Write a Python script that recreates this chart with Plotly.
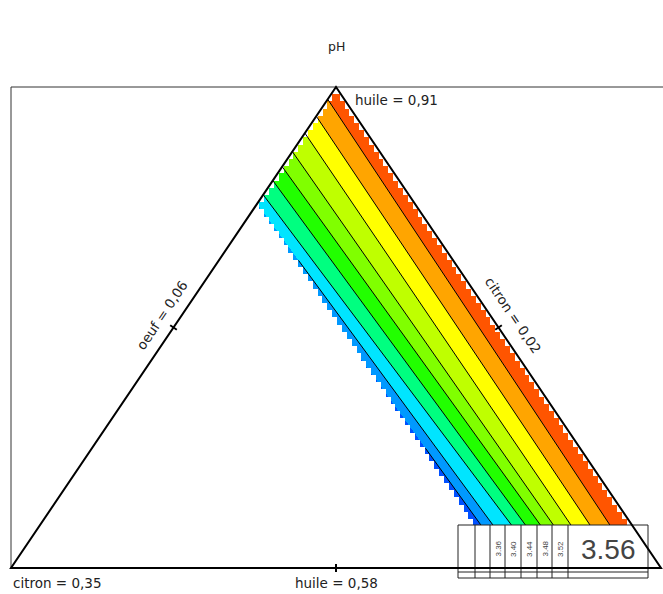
import numpy as np
import plotly.graph_objects as go

# ---------------- data ----------------
lower_bounds = {"citron": 0.02, "huile": 0.58, "oeuf": 0.06}
comp_range = 0.33
title_text = "pH"
vertex_labels = ["citron = 0,35", "oeuf = 0,39", "huile = 0,91"]
edge_labels = ["huile = 0,58", "oeuf = 0,06", "citron = 0,02"]

levels = [3.24, 3.28, 3.32, 3.36, 3.40, 3.44, 3.48, 3.52, 3.56]
huile_read = [0.83, 0.61]
citron_at_h1 = [0.1043, 0.1002, 0.0936, 0.0835, 0.0738, 0.0637, 0.0515, 0.0403, 0.0291]
citron_at_h2 = [0.0967, 0.0906, 0.0812, 0.0741, 0.0665, 0.0599, 0.0510, 0.0413, 0.0312]
citron_max_region = 0.0985
huile_min_region = 0.60
band_colors = ["#0050FF", "#0099FF", "#00E5FF", "#00FF80", "#22FF00",
               "#80FF00", "#BFFF00", "#FFFF00", "#FFA500", "#FF5500"]
legend_values = ["", "", "3.36", "3.40", "3.44", "3.48", "3.52", "3.56"]

# ---------------- frame geometry (pixels -> data units) ----------------
W, H = 663, 594
X0, XB, Y0, HT = 11.0, 650.0, 568.0, 481.0
APEX_Y = Y0 - HT
ROW = 7.2
EDGE_GAP = 1.2


def pu(px):
    return (np.asarray(px, dtype=float) - X0) / XB


def pv(py):
    return (Y0 - np.asarray(py, dtype=float)) / HT


def to_a(c):
    return (np.asarray(c, dtype=float) - lower_bounds["citron"]) / comp_range


def to_v(h):
    return (np.asarray(h, dtype=float) - lower_bounds["huile"]) / comp_range


a_max = float(to_a(citron_max_region))
v_min = float(to_v(huile_min_region))
v1, v2 = float(to_v(huile_read[0])), float(to_v(huile_read[1]))
a1 = to_a(citron_at_h1)
a2 = to_a(citron_at_h2)
q = (a1 - a2) / (v1 - v2)
p = a1 - q * v1

# ---------------- filled bands (rasterised) ----------------
px = np.arange(252, 663) + 0.5
py = np.arange(int(APEX_Y), int(Y0)) + 0.5
U = pu(px)[None, :]
V = pv(py)[:, None]
rows = np.floor((py - APEX_Y) / ROW)
V0 = pv(APEX_Y + rows * ROW)[:, None]
gap = EDGE_GAP / XB
inside = ((U <= 1 - 0.5 * V0 - gap) & (U >= 0.5 * V0 + gap)
          & (1 - U - 0.5 * V0 <= a_max) & (V >= v_min))
A = 1 - U - 0.5 * V
count = np.zeros(A.shape, dtype=int)
for pk, qk in zip(p, q):
    count += (pk + qk * V < A).astype(int)
band = (len(levels) - count).astype(float)
band[~inside] = np.nan
z = [[None if np.isnan(val) else int(val) for val in row] for row in band]

nb = len(band_colors)
cscale = []
for i, c in enumerate(band_colors):
    cscale.append([i / nb, c])
    cscale.append([(i + 1) / nb, c])

fig = go.Figure()
fig.add_trace(go.Heatmap(x=pu(px), y=pv(py), z=z, colorscale=cscale,
                         zmin=-0.5, zmax=nb - 0.5, showscale=False,
                         zsmooth=False, hoverinfo="skip"))

# ---------------- contour lines ----------------
for lev, pk, qk in zip(levels, p, q):
    v_hi = (1 - pk) / (1 + qk)
    v_lo = v_min
    if qk > 0:
        v_hi = min(v_hi, (a_max - pk) / qk)
    elif qk < 0:
        v_lo = max(v_min, (a_max - pk) / qk)
    vs = np.array([v_lo, v_hi])
    us = 1 - (pk + qk * vs) - 0.5 * vs
    fig.add_trace(go.Scatter(x=us, y=vs, mode="lines", name=str(lev),
                             line=dict(color="black", width=1), hoverinfo="skip"))

# ---------------- shapes ----------------
shapes = []
# outer box
shapes.append(dict(type="line", x0=float(pu(X0)), x1=float(pu(W)), y0=float(pv(APEX_Y)), y1=float(pv(APEX_Y)),
                   line=dict(color="#333333", width=1), layer="above"))
shapes.append(dict(type="line", x0=float(pu(X0)), x1=float(pu(X0)), y0=float(pv(APEX_Y)), y1=float(pv(Y0)),
                   line=dict(color="#333333", width=1), layer="above"))
# legend table
LX0, LX1, LY0, LY1 = 458, 648, 525, 578
cell_edges = [458, 475, 490, 505, 521, 537, 552, 568, 648]
shapes.append(dict(type="rect", x0=float(pu(LX0)), x1=float(pu(LX1)), y0=float(pv(LY1)), y1=float(pv(LY0)),
                   fillcolor="white", line=dict(color="#222222", width=1), layer="above"))
for e in cell_edges[1:-1]:
    shapes.append(dict(type="line", x0=float(pu(e)), x1=float(pu(e)), y0=float(pv(LY1)), y1=float(pv(LY0)),
                       line=dict(color="#222222", width=1), layer="above"))
shapes.append(dict(type="line", x0=float(pu(LX0)), x1=float(pu(LX1)), y0=float(pv(572)), y1=float(pv(572)),
                   line=dict(color="#222222", width=1), layer="above"))
# triangle
shapes.append(dict(type="path", path="M 0,0 L 1,0 L 0.5,1 Z",
                   line=dict(color="black", width=2), layer="above"))
# ticks at edge midpoints (pixel geometry)
mids = [((X0 + X0 + XB) / 2, Y0, (0.0, 1.0)),
        ((X0 + X0 + XB / 2) / 2, (Y0 + APEX_Y) / 2, (0.8287, 0.5597)),
        ((X0 + XB + X0 + XB / 2) / 2, (Y0 + APEX_Y) / 2, (0.8287, -0.5597))]
for mx, my, (dx, dy) in mids:
    shapes.append(dict(type="line", x0=float(pu(mx - 4 * dx)), x1=float(pu(mx + 4 * dx)),
                       y0=float(pv(my - 4 * dy)), y1=float(pv(my + 4 * dy)),
                       line=dict(color="black", width=2), layer="above"))

# ---------------- annotations ----------------
lab_font = dict(family="DejaVu Sans", size=13.5, color="#222222")
ann = []
ann.append(dict(x=float(pu(11)), y=float(pv(583)), text=vertex_labels[0], xanchor="left", yanchor="middle",
                showarrow=False, font=lab_font))
ann.append(dict(x=float(pu(W + 1)), y=float(pv(583)), text=vertex_labels[1], xanchor="right", yanchor="middle",
                showarrow=False, font=lab_font))
ann.append(dict(x=float(pu(353)), y=float(pv(100)), text=vertex_labels[2], xanchor="left", yanchor="middle",
                showarrow=False, font=lab_font))
ann.append(dict(x=float(pu(336)), y=float(pv(583)), text=edge_labels[0], xanchor="center", yanchor="middle",
                showarrow=False, font=lab_font))
ann.append(dict(x=float(pu(162)), y=float(pv(315)), text=edge_labels[1], xanchor="center", yanchor="middle",
                textangle=-56, showarrow=False, font=lab_font))
ann.append(dict(x=float(pu(513)), y=float(pv(315)), text=edge_labels[2], xanchor="center", yanchor="middle",
                textangle=56, showarrow=False, font=lab_font))
ann.append(dict(x=float(pu(336)), y=float(pv(46)), text=title_text, xanchor="center", yanchor="middle",
                showarrow=False, font=dict(family="DejaVu Sans", size=12.5, color="#222222")))
for i, val in enumerate(legend_values):
    if not val:
        continue
    c0, c1 = cell_edges[i], cell_edges[i + 1]
    wide = (c1 - c0) > 40
    ann.append(dict(x=float(pu((c0 + c1) / 2)), y=float(pv(549)), text=val, xanchor="center", yanchor="middle",
                    showarrow=False, textangle=0 if wide else -90,
                    font=dict(family="Liberation Sans", size=28 if wide else 8, color="#444444")))

fig.update_layout(
    width=W, height=H, margin=dict(l=0, r=0, t=0, b=0),
    paper_bgcolor="white", plot_bgcolor="white", showlegend=False,
    xaxis=dict(range=[float(pu(0)), float(pu(W))], visible=False, fixedrange=True),
    yaxis=dict(range=[float(pv(H)), float(pv(0))], visible=False, fixedrange=True),
    shapes=shapes, annotations=ann,
)
fig.write_html("out.html", config={"displayModeBar": False})
